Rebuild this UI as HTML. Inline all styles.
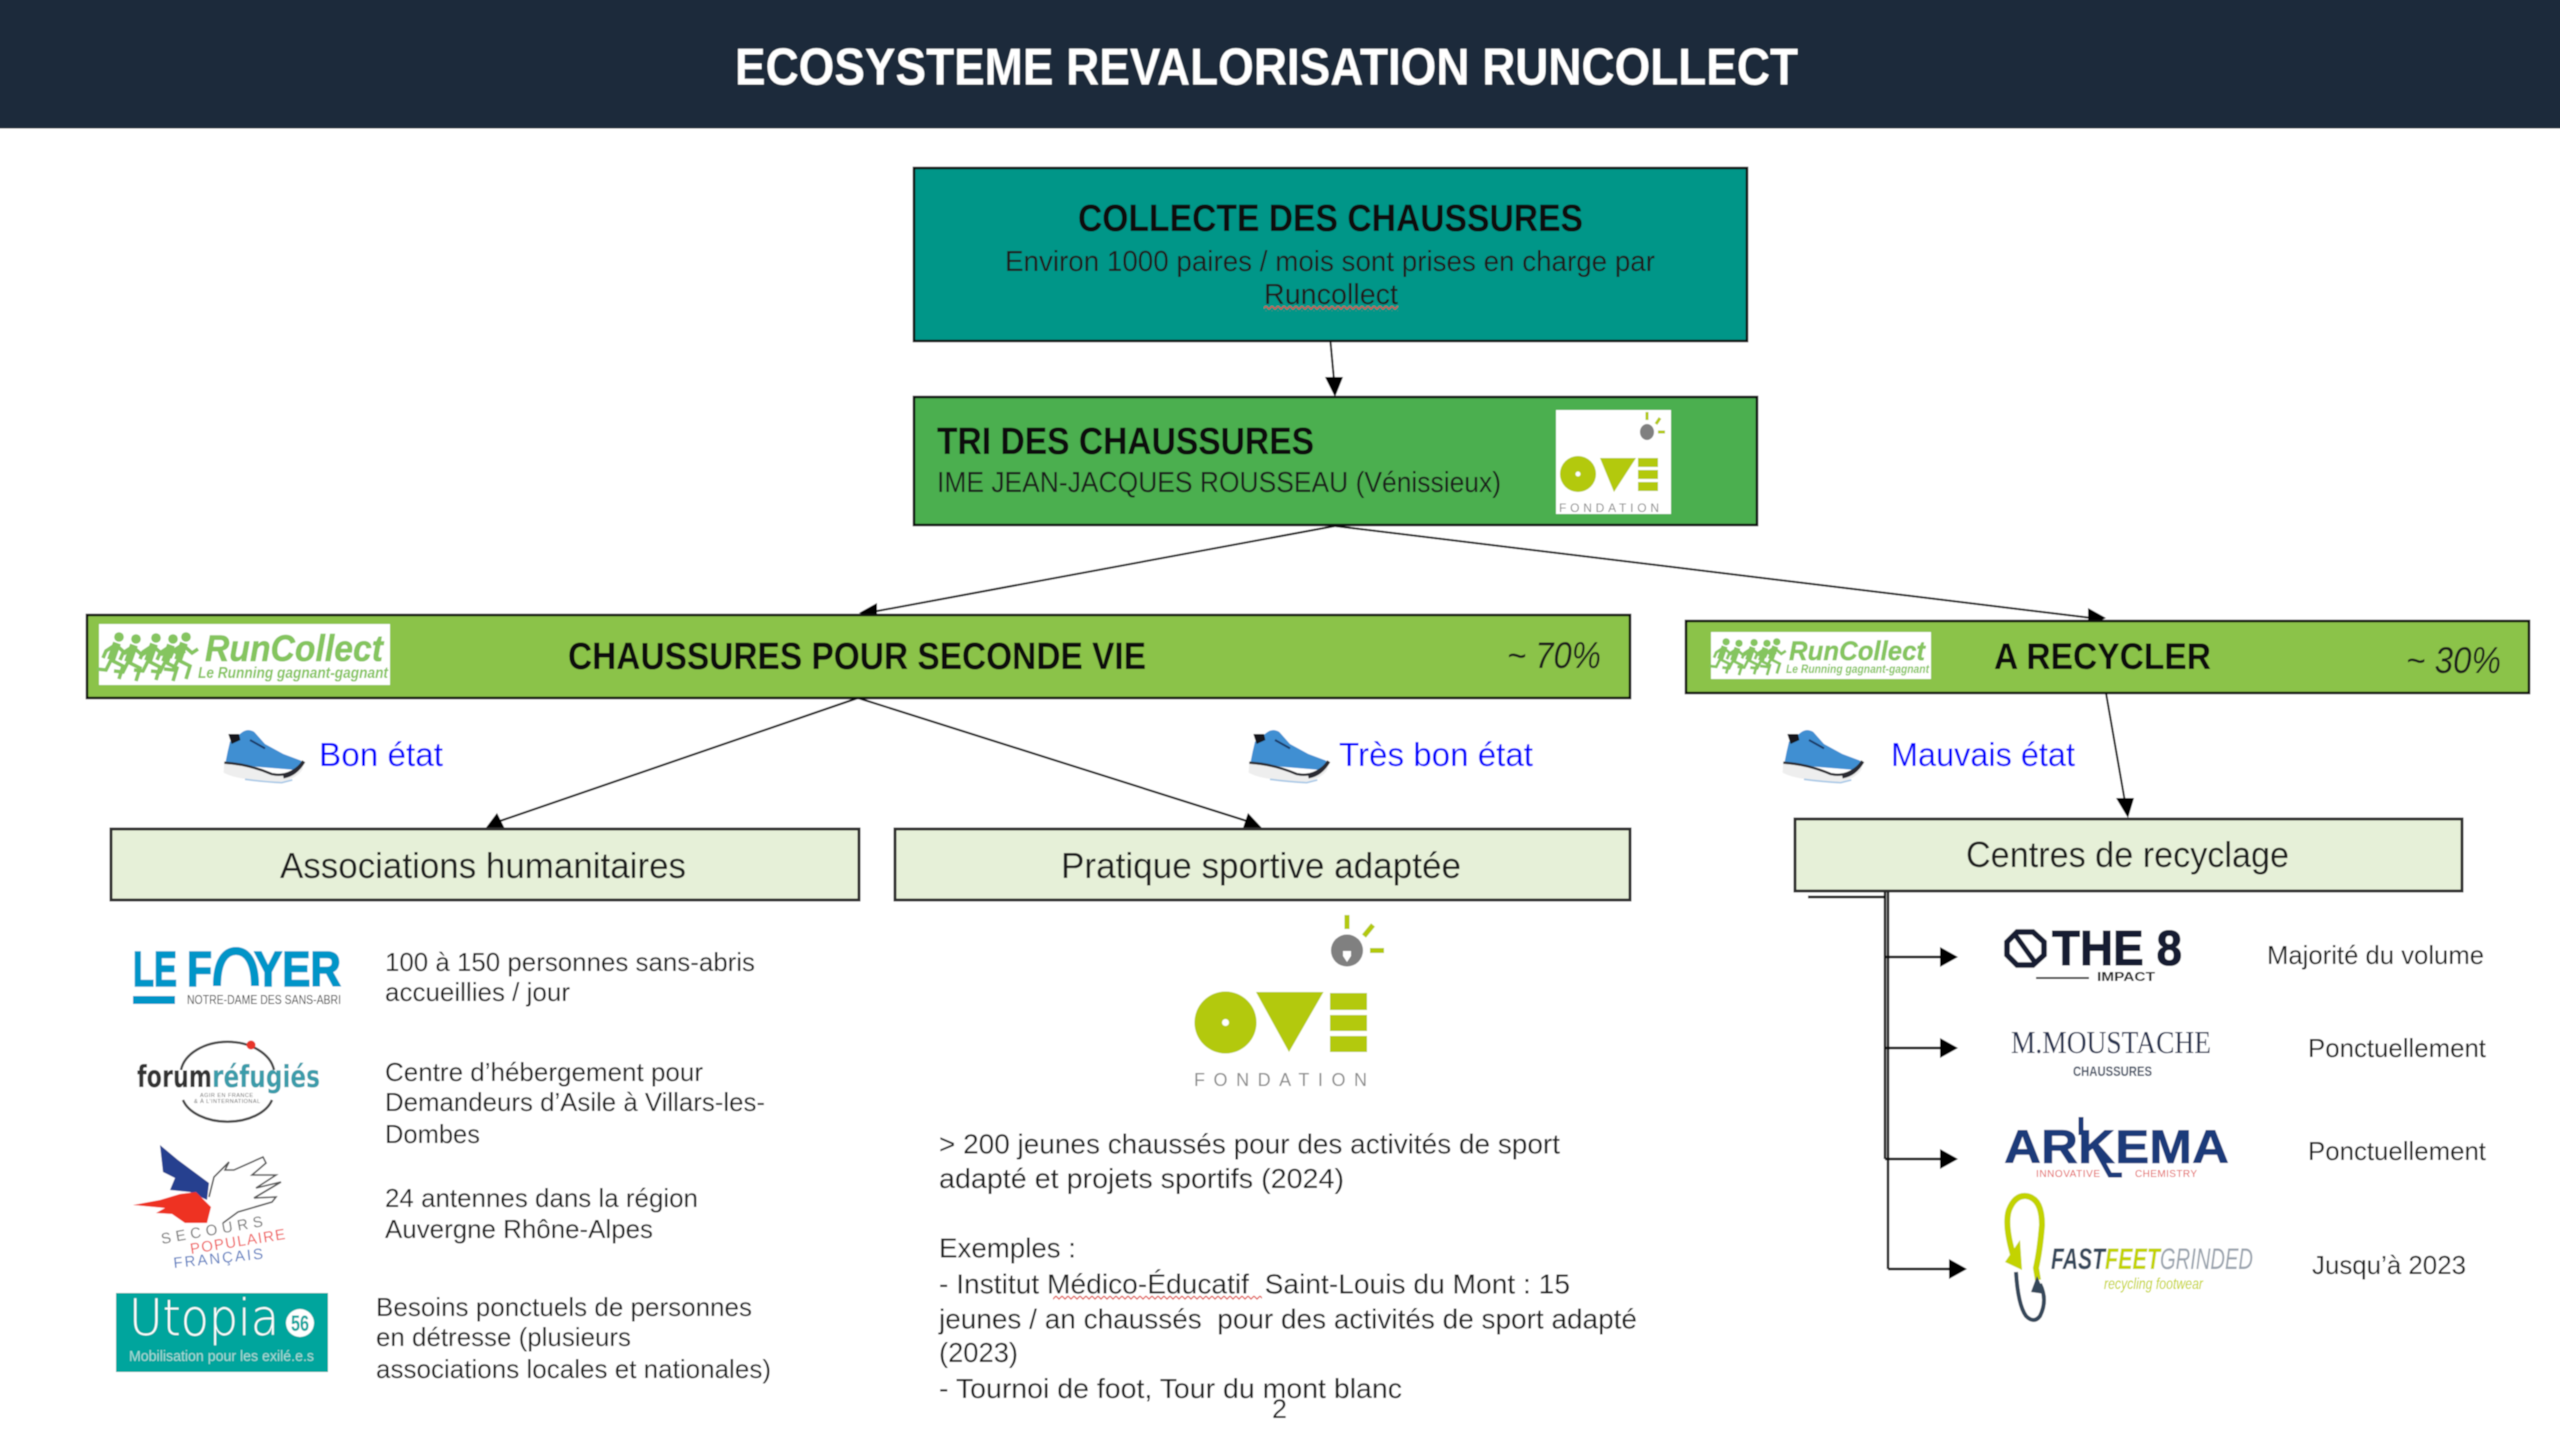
<!DOCTYPE html>
<html lang="fr"><head><meta charset="utf-8"><title>Ecosysteme revalorisation Runcollect</title>
<style>
html,body{margin:0;padding:0;background:#fff;width:2560px;height:1429px;overflow:hidden}
svg{display:block}
text{font-family:"Liberation Sans",sans-serif;white-space:pre}
.b{font-weight:bold}
.k{fill:#0c0c0c}
.d{fill:#1c1c1c}
.blue{fill:#0000ff}
.box{stroke:#111;stroke-width:2.5}
.lt{fill:#e6f0d8;stroke:#2e2e2e;stroke-width:3}
.ln{stroke:#111;stroke-width:2;fill:none}
</style></head><body>
<svg xmlns="http://www.w3.org/2000/svg" width="2560" height="1429" viewBox="0 0 2560 1429">
<defs>
<filter id="soft" filterUnits="userSpaceOnUse" x="-20" y="-20" width="2600" height="1469"><feGaussianBlur stdDeviation="0.55"/></filter>
<pattern id="sq" width="6" height="5" patternUnits="userSpaceOnUse"><path d="M0,1 L3,4 L6,1" fill="none" stroke="#e0443c" stroke-width="1.2"/></pattern>
<g id="runner">
<circle cx="23" cy="5" r="4.8" fill="#85c55f"/>
<path d="M21,11 L15,28" stroke="#85c55f" stroke-width="8" fill="none"/>
<path d="M20,13 L29,21 L35,17 M19,13 L10,19 L7,26 M15,28 L27,34 L23,47 M15,28 L10,38 L1,37" stroke="#85c55f" stroke-width="3.6" fill="none"/>
</g>
<g id="shoe">
<path d="M28,122 L32,130 Q100,135 170,160 Q225,172 266,124 L262,150 Q240,180 190,186 L100,178 Q50,172 26,158 Z" fill="#eeeeee"/>
<path d="M32,125 L38,95 L45,65 L80,38 Q98,24 118,36 L150,72 L205,102 L258,122 L262,135 L245,150 L120,140 Z" fill="#3f8fd2"/>
<path d="M40,42 L72,42 L76,60 L50,72 Z" fill="#15181c"/>
<path d="M105,60 L150,85" stroke="#1e3a66" stroke-width="6" fill="none"/>
<path d="M28,128 Q100,132 170,162 Q225,174 266,124" stroke="#2a2c30" stroke-width="7" fill="none"/>
<path d="M205,170 Q242,164 266,124" stroke="#2a2c30" stroke-width="11" fill="none"/>
<path d="M90,178 Q150,186 200,188 L232,180" stroke="#a8c8e6" stroke-width="5" fill="none"/>
</g>
</defs>
<rect width="2560" height="1429" fill="#fff"/>
<g filter="url(#soft)">
<rect x="-20" y="-20" width="2600" height="1469" fill="#fff"/>
<rect x="-20" y="-20" width="2600" height="148.5" fill="#1a2c3b"/>
<text class="b" x="735" y="84.5" font-size="52" fill="#fff" textLength="1063" lengthAdjust="spacingAndGlyphs">ECOSYSTEME REVALORISATION RUNCOLLECT</text>

<!-- Collecte -->
<rect class="box" x="914" y="168" width="833" height="173" fill="#009688"/>
<text class="b k" x="1078" y="231" font-size="38" textLength="505" lengthAdjust="spacingAndGlyphs">COLLECTE DES CHAUSSURES</text>
<text class="d" x="1005" y="271" font-size="28.5" textLength="650" lengthAdjust="spacingAndGlyphs">Environ 1000 paires / mois sont prises en charge par</text>
<text class="d" x="1264" y="304" font-size="28.5" textLength="134" lengthAdjust="spacingAndGlyphs">Runcollect</text>
<rect x="1264" y="306" width="134" height="5" fill="url(#sq)"/>

<line class="ln" x1="1330.5" y1="342" x2="1334" y2="380"/>
<polygon points="1335,397 1325,377 1343,377" fill="#000"/>

<!-- Tri -->
<rect class="box" x="914" y="397" width="843" height="128" fill="#4caf50"/>
<text class="b k" x="937" y="454" font-size="38" textLength="377" lengthAdjust="spacingAndGlyphs">TRI DES CHAUSSURES</text>
<text class="d" x="937" y="492" font-size="28.5" textLength="564" lengthAdjust="spacingAndGlyphs">IME JEAN-JACQUES ROUSSEAU (Vénissieux)</text>
<rect x="1556" y="410" width="115" height="104" fill="#fff"/>
<g>
<ellipse cx="1647" cy="432" rx="7" ry="8" fill="#808080"/>
<path d="M1647,412 V420 M1660,418 L1656,424 M1658,432 H1665" stroke="#b3c90a" stroke-width="3" fill="none"/>
<ellipse cx="1578" cy="474" rx="18" ry="18" fill="#b3c90a"/><circle cx="1578" cy="474" r="2.5" fill="#fff"/>
<polygon points="1600,458 1636,458 1614,492" fill="#b3c90a"/>
<rect x="1638" y="458" width="20" height="9" fill="#b3c90a"/><rect x="1638" y="470" width="20" height="9" fill="#b3c90a"/><rect x="1638" y="482" width="20" height="9" fill="#b3c90a"/>
<text x="1559" y="512" font-size="12" fill="#8a8a8a" textLength="100">FONDATION</text>
</g>

<!-- arrows from Tri -->
<line class="ln" x1="1335" y1="526" x2="872" y2="612"/>
<polygon points="859,613 877,603 877,621" fill="#000"/>
<line class="ln" x1="1335" y1="526" x2="2092" y2="618"/>
<polygon points="2106,618 2088,608 2088,627" fill="#000"/>

<!-- Chaussures seconde vie -->
<rect class="box" x="87" y="615" width="1543" height="83" fill="#8bc34a"/>
<rect x="99" y="624" width="291" height="61" fill="#fff"/>
<use href="#runner" x="96" y="632"/><use href="#runner" x="113" y="634"/><use href="#runner" x="133" y="633"/><use href="#runner" x="150" y="634"/><use href="#runner" x="163" y="632"/>
<text class="b" x="205" y="661" font-size="37" font-style="italic" fill="#85c55f" stroke="#85c55f" stroke-width=".5" textLength="178" lengthAdjust="spacingAndGlyphs">RunCollect</text>
<text class="b" x="198" y="678" font-size="16" font-style="italic" fill="#85c55f" textLength="190" lengthAdjust="spacingAndGlyphs">Le Running gagnant-gagnant</text>
<text class="b k" x="568" y="669" font-size="38" textLength="578" lengthAdjust="spacingAndGlyphs">CHAUSSURES POUR SECONDE VIE</text>
<text class="d" x="1507" y="668" font-size="37" font-style="italic" textLength="94" lengthAdjust="spacingAndGlyphs">~ 70%</text>

<!-- A recycler -->
<rect class="box" x="1686" y="621" width="843" height="72" fill="#8bc34a"/>
<rect x="1711" y="632" width="220" height="47" fill="#fff"/>
<g transform="translate(1711,632) scale(.756)">
<use href="#runner" x="-3" y="8"/><use href="#runner" x="14" y="10"/><use href="#runner" x="34" y="9"/><use href="#runner" x="51" y="10"/><use href="#runner" x="64" y="8"/>
</g>
<text class="b" x="1789" y="660" font-size="27" font-style="italic" fill="#85c55f" stroke="#85c55f" stroke-width=".4" textLength="136" lengthAdjust="spacingAndGlyphs">RunCollect</text>
<text class="b" x="1786" y="673" font-size="12" font-style="italic" fill="#85c55f" textLength="143" lengthAdjust="spacingAndGlyphs">Le Running gagnant-gagnant</text>
<text class="b k" x="1994" y="669" font-size="37" textLength="217" lengthAdjust="spacingAndGlyphs">A RECYCLER</text>
<text class="d" x="2406" y="673" font-size="37" font-style="italic" textLength="95" lengthAdjust="spacingAndGlyphs">~ 30%</text>

<!-- shoes + labels -->
<use href="#shoe" transform="translate(215,720) scale(.3333)"/>
<text class="blue" x="319" y="766" font-size="33.5" textLength="124" lengthAdjust="spacingAndGlyphs">Bon état</text>
<use href="#shoe" transform="translate(1240,720) scale(.3333)"/>
<text class="blue" x="1339" y="766" font-size="33.5" textLength="194" lengthAdjust="spacingAndGlyphs">Très bon état</text>
<use href="#shoe" transform="translate(1774,720) scale(.3333)"/>
<text class="blue" x="1891" y="766" font-size="33.5" textLength="184" lengthAdjust="spacingAndGlyphs">Mauvais état</text>

<!-- connectors level 3 -->
<line class="ln" x1="858" y1="698" x2="497" y2="822"/>
<polygon points="485,829 497,813 505,829" fill="#000"/>
<line class="ln" x1="858" y1="698" x2="1250" y2="822"/>
<polygon points="1262,828 1248,813 1242,831" fill="#000"/>
<line class="ln" x1="2106" y1="693" x2="2125" y2="802"/>
<polygon points="2128,818 2116,798 2134,798" fill="#000"/>

<!-- level 3 boxes -->
<rect class="lt" x="111" y="829" width="748" height="71"/>
<text class="d" x="280" y="878" font-size="36" textLength="406" lengthAdjust="spacingAndGlyphs">Associations humanitaires</text>
<rect class="lt" x="895" y="829" width="735" height="71"/>
<text class="d" x="1061" y="878" font-size="36" textLength="400" lengthAdjust="spacingAndGlyphs">Pratique sportive adaptée</text>
<rect class="lt" x="1795" y="819" width="667" height="72"/>
<text class="d" x="1966" y="867" font-size="36" textLength="323" lengthAdjust="spacingAndGlyphs">Centres de recyclage</text>

<!-- recycling tree -->
<path class="ln" d="M1808,897 H1885 M1885,892 V1159 M1888,892 V1269 M1885,957 H1942 M1885,1048 H1942 M1885,1159 H1942 M1888,1269 H1952" style="stroke-width:2.4"/>
<polygon points="1958,957 1940,947 1940,967" fill="#000"/>
<polygon points="1958,1048 1940,1038 1940,1058" fill="#000"/>
<polygon points="1958,1159 1940,1149 1940,1169" fill="#000"/>
<polygon points="1967,1269 1949,1259 1949,1279" fill="#000"/>

<!-- THE 8 -->
<polygon points="2017,932 2033,932 2044,942 2044,955 2033,965 2017,965 2007,955 2007,942" fill="none" stroke="#141c30" stroke-width="5.5"/>
<line x1="2016" y1="936" x2="2034" y2="961" stroke="#141c30" stroke-width="5"/>
<text class="b" x="2052" y="965" font-size="49" fill="#141c30" stroke="#141c30" stroke-width="1" textLength="130" lengthAdjust="spacingAndGlyphs">THE 8</text>
<line x1="2036" y1="978" x2="2089" y2="978" stroke="#333" stroke-width="2"/>
<text class="b" x="2097" y="981" font-size="13" fill="#222" textLength="58" lengthAdjust="spacingAndGlyphs">IMPACT</text>
<text class="d" x="2267" y="964" font-size="26" textLength="217" lengthAdjust="spacingAndGlyphs">Majorité du volume</text>

<!-- M. Moustache -->
<text x="2011" y="1053" font-size="32" style="font-family:'Liberation Serif',serif" fill="#27304f" textLength="200" lengthAdjust="spacingAndGlyphs">M.MOUSTACHE</text>
<text class="b" x="2073" y="1076" font-size="14" fill="#4a5468" textLength="79" lengthAdjust="spacingAndGlyphs">CHAUSSURES</text>
<text class="d" x="2308" y="1057" font-size="26" textLength="178" lengthAdjust="spacingAndGlyphs">Ponctuellement</text>

<!-- Arkema -->
<text class="b" x="2004" y="1163" font-size="47" fill="#1f3a7a" stroke="#1f3a7a" stroke-width=".6" textLength="225" lengthAdjust="spacingAndGlyphs">ARKEMA</text>
<path d="M2081,1117 V1135 M2094,1146 L2110,1175 H2122" stroke="#1f3a7a" stroke-width="5" fill="none"/>
<text x="2036" y="1177" font-size="10" fill="#e25a5a" textLength="64">INNOVATIVE</text>
<text x="2135" y="1177" font-size="10" fill="#e25a5a" textLength="62">CHEMISTRY</text>
<text class="d" x="2308" y="1160" font-size="26" textLength="178" lengthAdjust="spacingAndGlyphs">Ponctuellement</text>

<!-- FastFeet -->
<path d="M2014,1258 Q2004,1225 2009,1210 Q2015,1195 2026,1196 Q2042,1198 2042,1225 Q2040,1250 2036,1268 L2038,1280" fill="none" stroke="#c3d300" stroke-width="6"/>
<polygon points="2005,1262 2020,1240 2022,1270" fill="#c3d300"/>
<path d="M2016,1272 Q2018,1305 2026,1316 Q2034,1324 2040,1316 Q2048,1300 2040,1284" fill="none" stroke="#35475a" stroke-width="4"/>
<polygon points="2037,1276 2045,1294 2031,1292" fill="#35475a"/>
<text class="b" x="2051" y="1269" font-size="30" font-style="italic" fill="#35475a" textLength="54" lengthAdjust="spacingAndGlyphs">FAST</text>
<text class="b" x="2105" y="1269" font-size="30" font-style="italic" fill="#c3d300" textLength="55" lengthAdjust="spacingAndGlyphs">FEET</text>
<text x="2160" y="1269" font-size="30" font-style="italic" fill="#9aa3ad" textLength="93" lengthAdjust="spacingAndGlyphs">GRINDED</text>
<text x="2104" y="1289" font-size="16" font-style="italic" fill="#c3d300" textLength="99" lengthAdjust="spacingAndGlyphs">recycling footwear</text>
<text class="d" x="2312" y="1274" font-size="26" textLength="154" lengthAdjust="spacingAndGlyphs">Jusqu’à 2023</text>

<!-- Le Foyer -->
<text class="b" x="133" y="986" font-size="49" fill="#0095c8" stroke="#0095c8" stroke-width="1.6" textLength="44" lengthAdjust="spacingAndGlyphs">LE</text>
<text class="b" x="187" y="986" font-size="49" fill="#0095c8" stroke="#0095c8" stroke-width="1.6" textLength="25" lengthAdjust="spacingAndGlyphs">F</text>
<path d="M217,986 C217,960 226,951 236,951 C246,951 255,960 255,986" fill="none" stroke="#0095c8" stroke-width="8"/>
<text class="b" x="254" y="986" font-size="49" fill="#0095c8" stroke="#0095c8" stroke-width="1.6" textLength="87" lengthAdjust="spacingAndGlyphs">YER</text>
<rect x="133" y="996" width="42" height="8" fill="#0095c8"/>
<text x="187" y="1004" font-size="13" fill="#444" textLength="154" lengthAdjust="spacingAndGlyphs">NOTRE-DAME DES SANS-ABRI</text>
<text class="d" x="385" y="971" font-size="26" textLength="370" lengthAdjust="spacingAndGlyphs">100 à 150 personnes sans-abris</text>
<text class="d" x="385" y="1001" font-size="26" textLength="185" lengthAdjust="spacingAndGlyphs">accueillies / jour</text>

<!-- Forum réfugiés -->
<path d="M181,1070 A47,33 0 0 1 274,1070" fill="none" stroke="#444" stroke-width="2.4"/>
<path d="M183,1100 A46,29 0 0 0 272,1100" fill="none" stroke="#444" stroke-width="2.4"/>
<circle cx="251" cy="1045" r="4.5" fill="#e8342c"/>
<text x="137" y="1087" font-size="30" style="font-family:'DejaVu Sans',sans-serif;font-weight:bold" fill="#333" textLength="75" lengthAdjust="spacingAndGlyphs">forum</text>
<text x="212" y="1087" font-size="30" style="font-family:'DejaVu Sans',sans-serif;font-weight:bold" fill="#3b9caa" textLength="108" lengthAdjust="spacingAndGlyphs">réfugiés</text>
<text x="200" y="1097" font-size="5.5" fill="#666" textLength="53">AGIR EN FRANCE</text>
<text x="194" y="1103" font-size="5.5" fill="#666" textLength="66">&amp; À L’INTERNATIONAL</text>
<text class="d" x="385" y="1081" font-size="26" textLength="318" lengthAdjust="spacingAndGlyphs">Centre d’hébergement pour</text>
<text class="d" x="385" y="1111" font-size="26" textLength="380" lengthAdjust="spacingAndGlyphs">Demandeurs d’Asile à Villars-les-</text>
<text class="d" x="385" y="1143" font-size="26" textLength="95" lengthAdjust="spacingAndGlyphs">Dombes</text>

<!-- Secours populaire -->
<polygon points="160,1145 178,1160 209,1183 207,1200 190,1192 170,1190 175,1178 163,1172" fill="#28408f"/>
<polygon points="133,1205 160,1200 180,1194 196,1192 211,1207 207,1223 185,1223 172,1214 156,1213 165,1208" fill="#ee3124"/>
<path d="M209,1197 L214,1177 L229,1162 L225,1170 L234,1170 L263,1157 L266,1163 L252,1175 L276,1175 L256,1188 L281,1182 L254,1198 L276,1197 L272,1202 L238,1212 L223,1223" fill="none" stroke="#555" stroke-width="1.6"/>
<text x="162" y="1244" font-size="15" fill="#777" textLength="103" lengthAdjust="spacing" transform="rotate(-10 162 1244)">SECOURS</text>
<text x="191" y="1254" font-size="15" fill="#ef5a5a" textLength="96" lengthAdjust="spacing" transform="rotate(-9 191 1254)">POPULAIRE</text>
<text x="174" y="1268" font-size="15" fill="#5a7cc0" textLength="90" lengthAdjust="spacing" transform="rotate(-6 174 1268)">FRANÇAIS</text>
<text class="d" x="385" y="1207" font-size="26" textLength="313" lengthAdjust="spacingAndGlyphs">24 antennes dans la région</text>
<text class="d" x="385" y="1238" font-size="26" textLength="268" lengthAdjust="spacingAndGlyphs">Auvergne Rhône-Alpes</text>

<!-- Utopia -->
<rect x="116" y="1293" width="212" height="79" fill="#00a59d"/>
<text x="129" y="1335" font-size="50" style="font-family:'DejaVu Sans ExtraLight','DejaVu Sans Light','Liberation Sans',sans-serif" fill="#fff" textLength="150" lengthAdjust="spacingAndGlyphs">Utopia</text>
<circle cx="300" cy="1323" r="14" fill="#fff"/>
<text class="b" x="291" y="1331" font-size="22" fill="#00a59d" textLength="18" lengthAdjust="spacingAndGlyphs">56</text>
<text x="129" y="1361" font-size="15" fill="#a8dcd8" textLength="185" lengthAdjust="spacingAndGlyphs">Mobilisation pour les exilé.e.s</text>
<text class="d" x="376" y="1316" font-size="26" textLength="376" lengthAdjust="spacingAndGlyphs">Besoins ponctuels de personnes</text>
<text class="d" x="376" y="1346" font-size="26" textLength="255" lengthAdjust="spacingAndGlyphs">en détresse (plusieurs</text>
<text class="d" x="376" y="1378" font-size="26" textLength="395" lengthAdjust="spacingAndGlyphs">associations locales et nationales)</text>

<!-- OVE big -->
<ellipse cx="1347" cy="950.5" rx="16" ry="16" fill="#808080"/>
<polygon points="1343,951 1351,951 1351,956 1347,962 1343,956" fill="#fff"/>
<path d="M1347,915 V929 M1373,925 L1364,936 M1370,950.5 H1384" stroke="#b3c90a" stroke-width="5" fill="none"/>
<ellipse cx="1225.5" cy="1022.5" rx="31" ry="31" fill="#b3c90a"/><circle cx="1225.5" cy="1022.5" r="3.5" fill="#fff"/>
<polygon points="1256,992 1323.5,992 1289,1052" fill="#b3c90a"/>
<rect x="1330" y="993" width="37" height="17" fill="#b3c90a"/><rect x="1330" y="1015" width="37" height="16" fill="#b3c90a"/><rect x="1330" y="1036" width="37" height="16" fill="#b3c90a"/>
<text x="1194" y="1086" font-size="18" fill="#8a8a8a" textLength="173">FONDATION</text>

<!-- middle text -->
<text class="d" x="939" y="1153.5" font-size="28" textLength="621" lengthAdjust="spacingAndGlyphs">&gt; 200 jeunes chaussés pour des activités de sport</text>
<text class="d" x="939" y="1188" font-size="28" textLength="405" lengthAdjust="spacingAndGlyphs">adapté et projets sportifs (2024)</text>
<text class="d" x="939" y="1257.5" font-size="28" textLength="137" lengthAdjust="spacingAndGlyphs">Exemples :</text>
<text class="d" x="939" y="1293.5" font-size="28" textLength="631" lengthAdjust="spacingAndGlyphs">- Institut Médico-Éducatif  Saint-Louis du Mont : 15</text>
<rect x="1053" y="1295" width="209" height="5" fill="url(#sq)"/>
<text class="d" x="939" y="1328.5" font-size="28" textLength="698" lengthAdjust="spacingAndGlyphs">jeunes / an chaussés  pour des activités de sport adapté</text>
<text class="d" x="939" y="1362" font-size="28" textLength="79" lengthAdjust="spacingAndGlyphs">(2023)</text>
<text class="d" x="939" y="1398" font-size="28" textLength="463" lengthAdjust="spacingAndGlyphs">- Tournoi de foot, Tour du mont blanc</text>
<text class="d" x="1272" y="1418" font-size="27" textLength="15" lengthAdjust="spacingAndGlyphs">2</text>
</g>
</svg>
</body></html>
